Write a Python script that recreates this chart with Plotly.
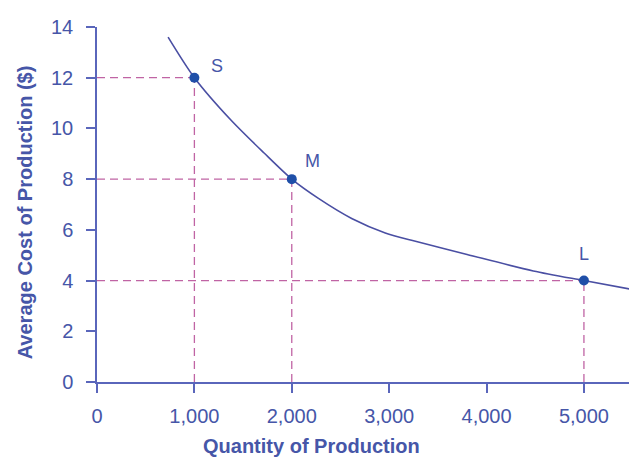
import plotly.graph_objects as go

# Curve (quantity, average cost)
curve_q = [730, 1000, 1370, 1710, 2000, 2270, 2615, 2960, 3270, 3800, 4480, 5000, 5540]
curve_c = [13.6, 12.0, 10.35, 9.05, 8.0, 7.25, 6.45, 5.88, 5.55, 5.03, 4.38, 4.0, 3.62]

# Labelled points
pt_names = ["S", "M", "L"]
pt_q = [1000, 2000, 5000]
pt_c = [12, 8, 4]

x_ticks = [0, 1000, 2000, 3000, 4000, 5000]
x_tick_labels = ["0", "1,000", "2,000", "3,000", "4,000", "5,000"]
y_ticks = [0, 2, 4, 6, 8, 10, 12, 14]

TXT = "#4656a8"
AX = "#5a66bb"
DASH = "#c064a4"
CURVE = "#4a4fa3"
DOT = "#1f4fa8"
FONT = "Liberation Sans, Arial, sans-serif"

fig = go.Figure()

# dashed guides built from the point arrays
hx, hy, vx, vy = [], [], [], []
for q, c in zip(pt_q, pt_c):
    hx += [0, q, None]
    hy += [c, c, None]
    vx += [q, q, None]
    vy += [0, c, None]
for gx, gy in ((hx, hy), (vx, vy)):
    fig.add_trace(go.Scatter(x=gx, y=gy, mode="lines",
                             line=dict(color=DASH, width=1.3, dash="8px,5px"),
                             hoverinfo="skip", showlegend=False, cliponaxis=False))

fig.add_trace(go.Scatter(x=curve_q, y=curve_c, mode="lines",
                         line=dict(color=CURVE, width=1.6, shape="spline", smoothing=0.8),
                         showlegend=False))

fig.add_trace(go.Scatter(x=pt_q, y=pt_c, mode="markers",
                         marker=dict(color=DOT, size=10),
                         showlegend=False, cliponaxis=False))

annotations = []
# point labels (pixel offsets from their dots)
offsets = {"S": (23, 12), "M": (21, 18), "L": (0, 27)}
for n, q, c in zip(pt_names, pt_q, pt_c):
    dx, dy = offsets[n]
    annotations.append(dict(x=q, y=c, xref="x", yref="y", text=n, showarrow=False,
                            xshift=dx, yshift=dy,
                            font=dict(family=FONT, size=18, color=TXT)))

# axis titles
annotations.append(dict(xref="paper", yref="paper", x=-0.1333, y=0.478,
                        xanchor="center", yanchor="middle",
                        text="<b>Average Cost of Production ($)</b>", textangle=-90,
                        showarrow=False, font=dict(family=FONT, size=20, color=TXT)))
annotations.append(dict(xref="paper", yref="paper", x=0.398, y=-0.1816,
                        xanchor="center", yanchor="middle",
                        text="<b>Quantity of Production</b>", showarrow=False,
                        font=dict(family=FONT, size=20, color=TXT)))

fig.update_layout(
    width=637, height=458,
    margin=dict(l=89, r=8, t=14, b=84),
    paper_bgcolor="white", plot_bgcolor="white",
    font=dict(family=FONT, size=20, color=TXT),
    annotations=annotations,
)

fig.update_xaxes(range=[0, 5545], tickvals=x_ticks, ticktext=x_tick_labels,
                 showline=True, linecolor=AX, linewidth=1.5, showgrid=False, zeroline=False,
                 ticks="outside", ticklen=9, tickcolor=AX, tickwidth=1.5,
                 ticklabelstandoff=6, tickfont=dict(family=FONT, size=20, color=TXT))
fig.update_yaxes(range=[0, 14], tickvals=y_ticks,
                 showline=True, linecolor=AX, linewidth=1.5, showgrid=False, zeroline=False,
                 ticks="outside", ticklen=9, tickcolor=AX, tickwidth=1.5,
                 ticklabelstandoff=9, tickfont=dict(family=FONT, size=20, color=TXT))

fig.write_html("out.html")
